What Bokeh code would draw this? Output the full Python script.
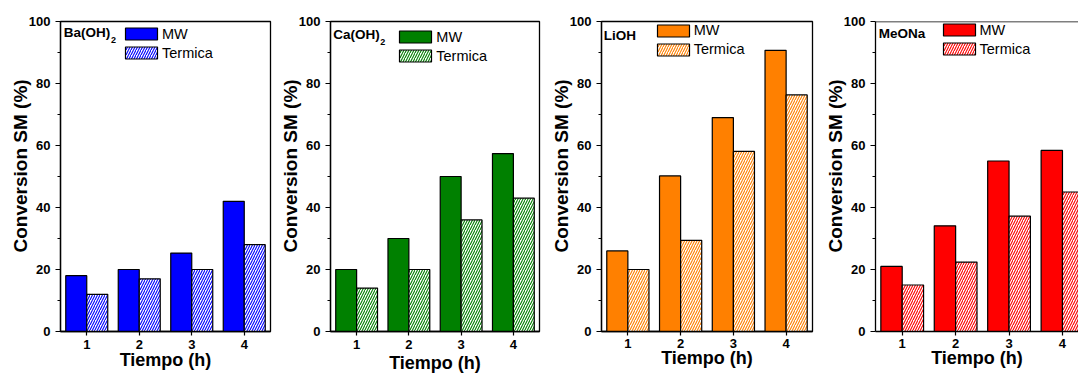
from bokeh.plotting import figure
from bokeh.layouts import row
from bokeh.models import ColumnDataSource, Range1d, FixedTicker, Label, Legend, LegendItem, Span
from bokeh.transform import dodge
from bokeh.embed import file_html
from bokeh.resources import INLINE

# ---------------- data ----------------
hours = [1, 2, 3, 4]
tick_labels = ["1", "2", "3", "4"]
catalyst_names = ["Ba(OH)", "Ca(OH)", "LiOH", "MeONa"]
catalyst_subscripts = ["2", "2", "", ""]
series_names = ["MW", "Termica"]

mw_ba = [18, 20, 25.3, 42]
th_ba = [12, 17, 20, 28]
mw_ca = [20, 30, 50, 57.4]
th_ca = [14, 20, 36, 43]
mw_li = [26, 50.2, 69, 90.7]
th_li = [20, 29.4, 58.1, 76.3]
mw_me = [21, 34.1, 55, 58.4]
th_me = [15, 22.4, 37.2, 45]

mw_values = [mw_ba, mw_ca, mw_li, mw_me]
th_values = [th_ba, th_ca, th_li, th_me]
colors = ["#0000FF", "#008000", "#FF8000", "#FF0000"]

x_title = "Tiempo (h)"
y_title = "Conversion SM (%)"
y_ticks = [0, 20, 40, 60, 80, 100]
y_minor = [10, 30, 50, 70, 90]

# ---------------- layout / style ----------------
FONT = "Liberation Sans"
H = 377
NAME_FS = 13.5
# non-breaking spaces in front of the rotated y title lift it a little above the frame centre
Y_TITLE_LIFT = "\u00a0" * 4
panels = [
    dict(cx=0,   left=60, fw=210, right=5, top=21, fh=313, xend=4.5, tls=4, xls=-2,
         leg=(125, 25), name=(63.3, 31.7)),
    dict(cx=275, left=55, fw=209, right=6, top=18, fh=313, xend=4.5, tls=4, xls=1,
         leg=(399.3, 25), name=(332.7, 30.9)),
    dict(cx=545, left=56, fw=211, right=6, top=18, fh=318, xend=4.5, tls=3, xls=-3,
         leg=(656.7, 23.8), name=(603.3, 32.3)),
    dict(cx=818, left=57, fw=203, right=0, top=16, fh=320, xend=4.30, tls=3, xls=-3,
         leg=(942.5, 23.0), name=(878.3, 28.3)),
]
LEG_ROW_H = 19
LEG_GLYPH_H = 15
LEG_SHIFT = 3.5

figs = []
for i, spec in enumerate(panels):
    fl = spec["cx"] + spec["left"]
    ft = spec["top"]
    fb = ft + spec["fh"]
    ppux = spec["fw"] / (spec["xend"] - 0.5)
    ppuy = spec["fh"] / 100.0

    def dx(px, fl=fl, ppux=ppux):
        return 0.5 + (px - fl) / ppux

    def dy(py, fb=fb, ppuy=ppuy):
        return (fb - py) / ppuy

    width = spec["left"] + spec["fw"] + spec["right"]
    p = figure(width=width, height=H,
               x_range=Range1d(0.5, spec["xend"]), y_range=Range1d(0, 100),
               output_backend="svg", toolbar_location=None)
    p.min_border_left = spec["left"]
    p.min_border_right = spec["right"]
    p.min_border_top = spec["top"]
    p.min_border_bottom = H - spec["top"] - spec["fh"]
    p.background_fill_color = "white"
    p.border_fill_color = "white"
    p.xgrid.visible = False
    p.ygrid.visible = False
    if i == 3:
        p.outline_line_color = None
        p.add_layout(Span(location=100, dimension="width", line_color="black", line_width=1.3))
    else:
        p.outline_line_color = "black"
        p.outline_line_width = 1.3
        p.outline_line_alpha = 1.0

    src = ColumnDataSource(dict(h=hours, mw=mw_values[i], th=th_values[i]))
    r_mw = p.vbar(x=dodge("h", -0.2), top="mw", width=0.4, bottom=0, source=src,
                  fill_color=colors[i], line_color="black", line_width=1.2)
    r_th = p.vbar(x=dodge("h", 0.2), top="th", width=0.4, bottom=0, source=src,
                  fill_color="white", hatch_pattern="/", hatch_color=colors[i],
                  hatch_scale=5, hatch_weight=1.1,
                  line_color="black", line_width=1.2)

    # axes
    xa = p.xaxis[0]
    xa.ticker = FixedTicker(ticks=hours, minor_ticks=[])
    xa.major_label_overrides = {h: t for h, t in zip(hours, tick_labels)}
    ya = p.yaxis[0]
    ya.ticker = FixedTicker(ticks=y_ticks, minor_ticks=y_minor)
    for ax in (xa, ya):
        ax.axis_line_color = "black"
        ax.axis_line_width = 1.3
        ax.major_tick_line_color = "black"
        ax.major_tick_line_width = 1.2
        ax.minor_tick_line_color = "black"
        ax.minor_tick_line_width = 1.0
        ax.major_tick_in = 0
        ax.minor_tick_in = 0
        ax.major_label_text_font = FONT
        ax.major_label_text_font_style = "bold"
        ax.major_label_text_font_size = "13px"
        ax.major_label_text_color = "black"
        ax.axis_label_text_font = FONT
        ax.axis_label_text_font_style = "bold"
        ax.axis_label_text_color = "black"
    xa.major_tick_out = 4
    xa.major_label_standoff = spec["tls"]
    xa.axis_label = x_title
    xa.axis_label_text_font_size = "18px"
    xa.axis_label_standoff = spec["xls"]
    ya.major_tick_out = 5
    ya.minor_tick_out = 3
    ya.major_label_standoff = 5
    ya.axis_label = Y_TITLE_LIFT + y_title
    ya.axis_label_text_font_size = "19px"
    ya.axis_label_standoff = -5

    # catalyst name (with subscript right after it)
    nx, ncy = spec["name"]
    p.add_layout(Label(x=dx(nx), y=dy(ncy), text=catalyst_names[i],
                       text_align="left", text_baseline="middle",
                       text_font=FONT, text_font_style="bold", text_font_size=f"{NAME_FS}px",
                       text_color="black"))
    if catalyst_subscripts[i]:
        sx = nx + 3.45 * NAME_FS + 0.5
        scy = ncy + 7.5
        p.add_layout(Label(x=dx(sx), y=dy(scy), text=catalyst_subscripts[i],
                           text_align="left", text_baseline="middle",
                           text_font=FONT, text_font_style="bold", text_font_size="9px",
                           text_color="black"))

    # legend
    gx, gy = spec["leg"]
    x1 = gx - 4 - fl
    yoff = gy - 0.1 * LEG_GLYPH_H - ft + LEG_SHIFT
    leg_h = 2 * LEG_ROW_H
    legend = Legend(items=[LegendItem(label=series_names[0], renderers=[r_mw]),
                           LegendItem(label=series_names[1], renderers=[r_th])],
                    location=(x1, spec["fh"] - yoff - leg_h))
    legend.glyph_width = 40
    legend.glyph_height = LEG_GLYPH_H
    legend.label_height = LEG_ROW_H
    legend.label_standoff = 1
    legend.spacing = 0
    legend.padding = 0
    legend.margin = 0
    legend.border_line_color = None
    legend.background_fill_alpha = 0
    legend.label_text_font = FONT
    legend.label_text_font_size = "14.5px"
    legend.label_text_color = "black"
    p.add_layout(legend)

    figs.append(p)

layout = row(*figs)
open("out.html", "w").write(file_html(layout, INLINE))
